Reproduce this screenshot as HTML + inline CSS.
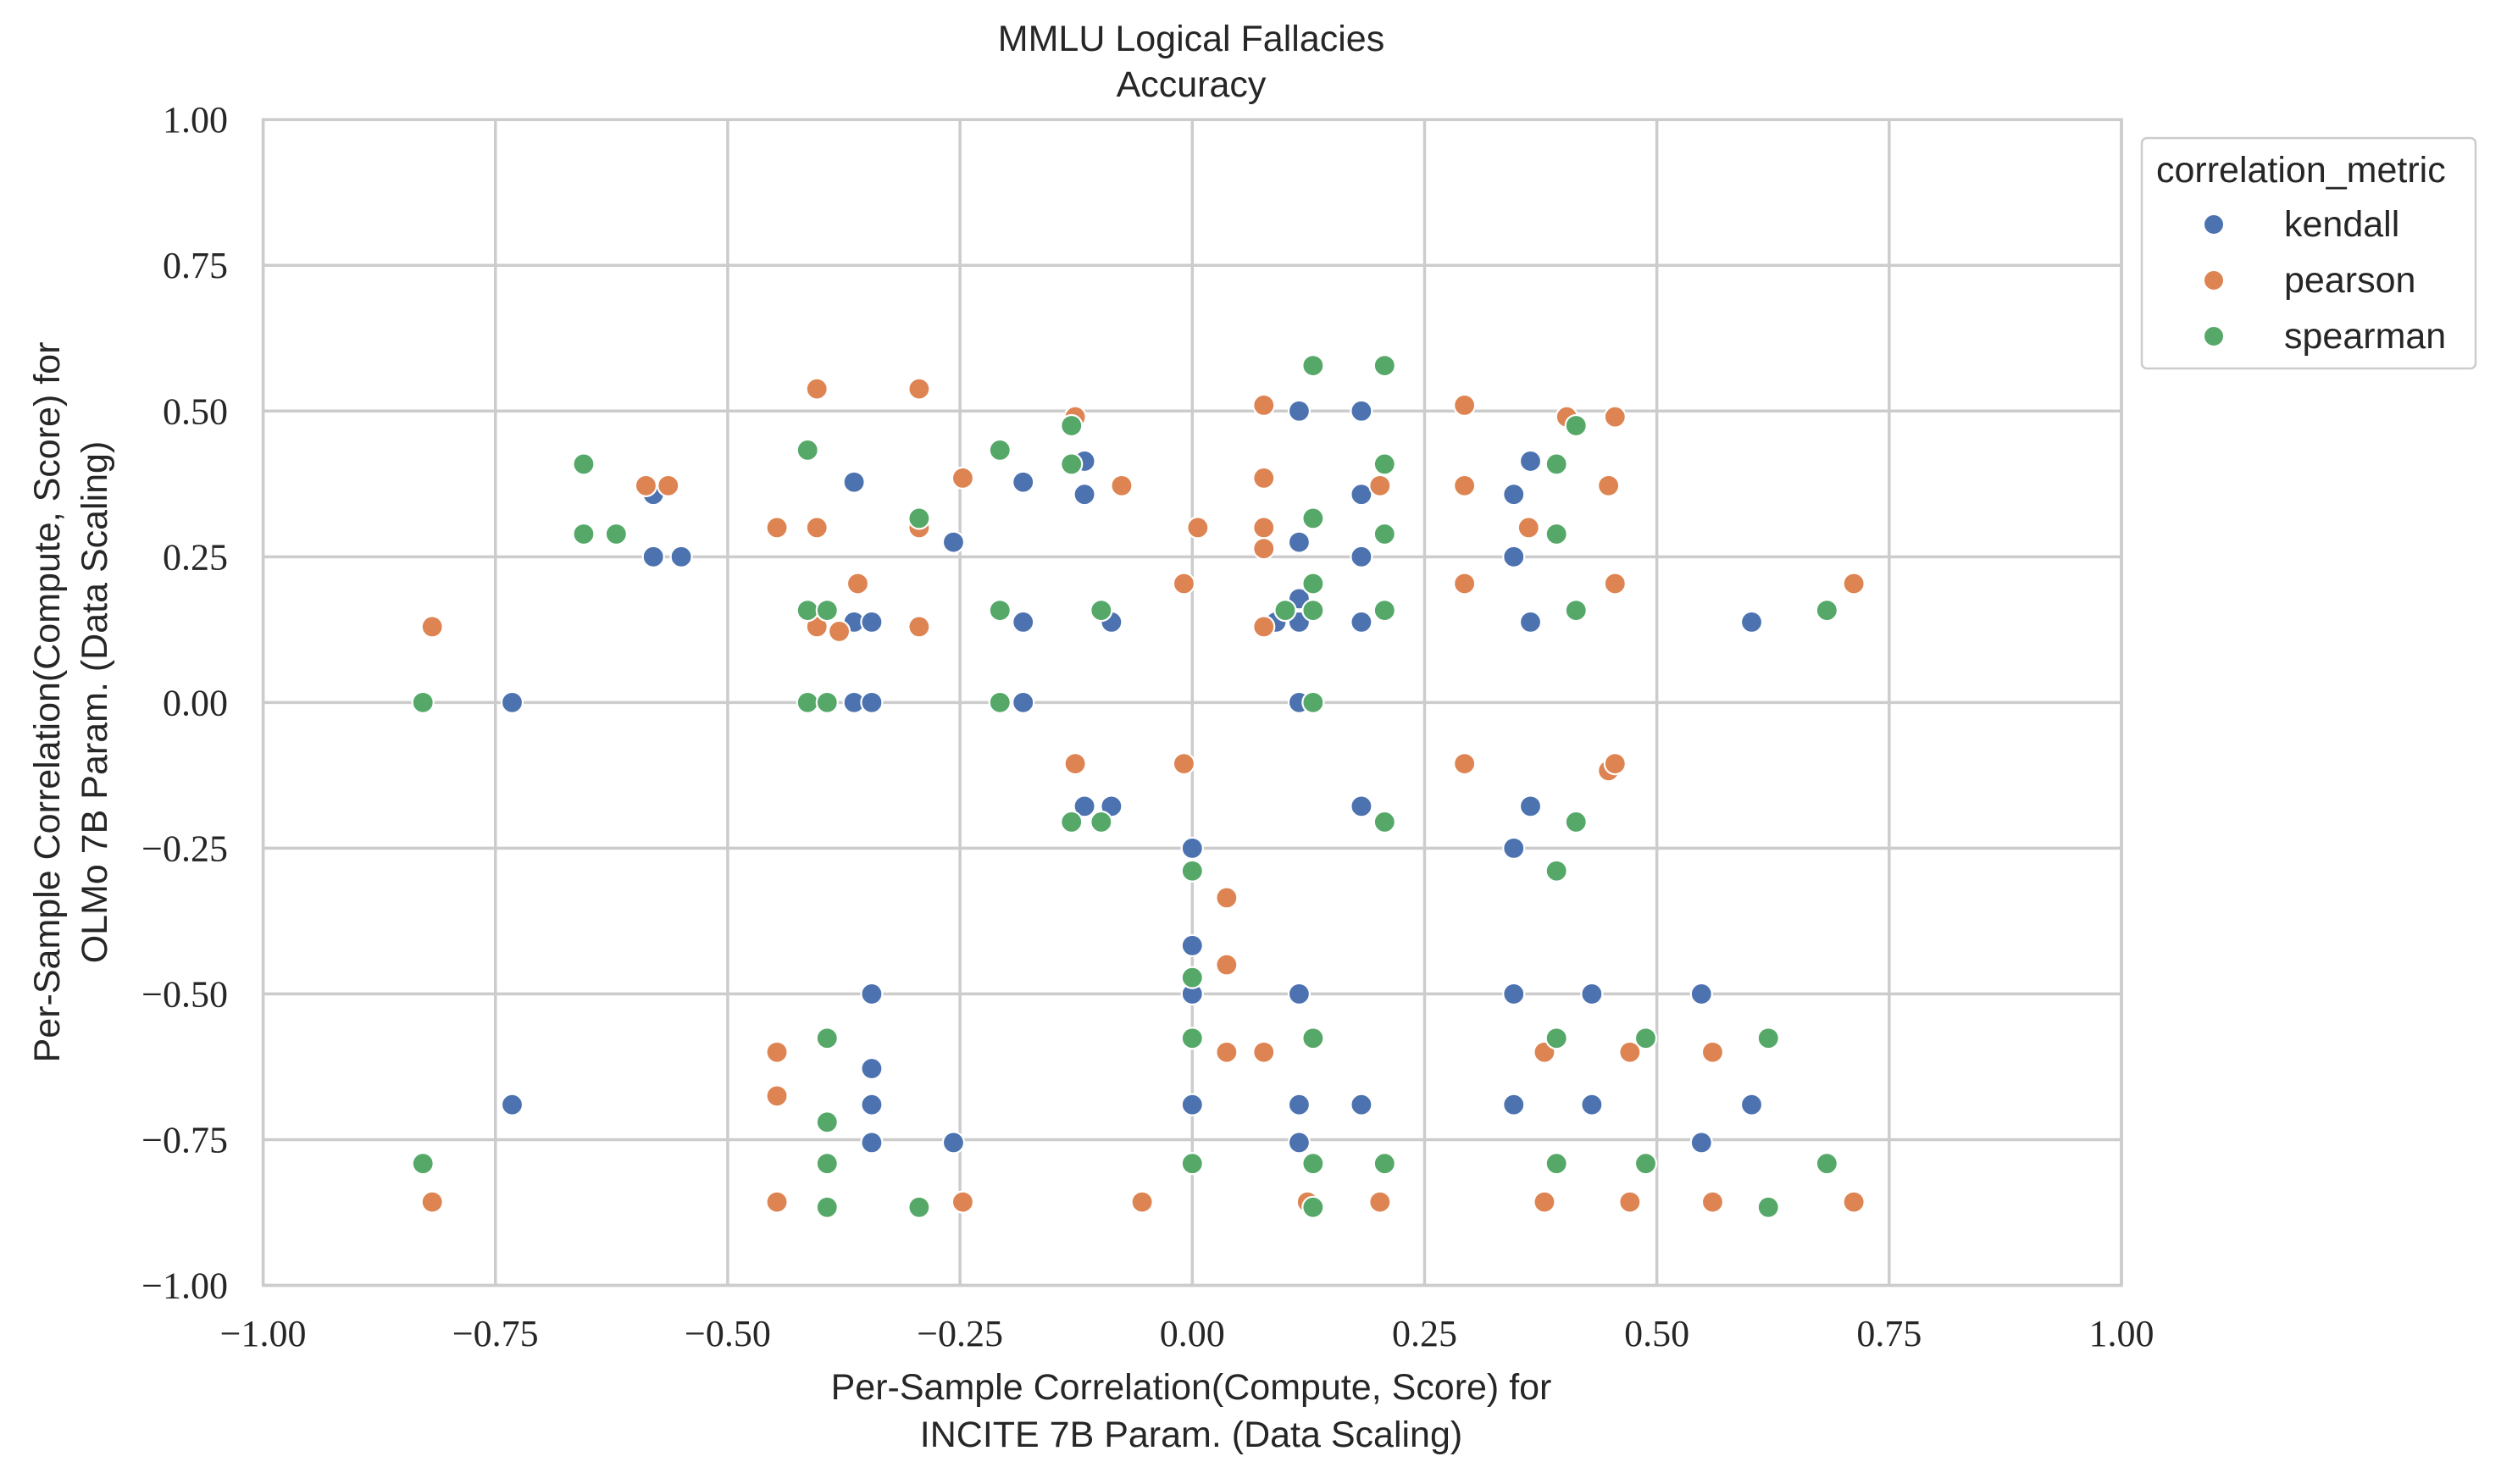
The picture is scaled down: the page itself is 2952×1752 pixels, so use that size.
<!DOCTYPE html>
<html><head><meta charset="utf-8"><style>
html,body{margin:0;padding:0;background:#fff;}
svg{display:block;}
.tick{font-family:"Liberation Serif",serif;font-size:44px;fill:#262626;}
.lab{font-family:"Liberation Sans",sans-serif;font-size:43px;fill:#262626;}
</style></head><body>
<svg id="chart" width="2952" height="1752" viewBox="0 0 2952 1752">
<g id="grid"></g>
<g id="marks"></g>
<g id="ticks"></g>
<text class="lab" x="1406" y="60" text-anchor="middle">MMLU Logical Fallacies</text>
<text class="lab" x="1406" y="114" text-anchor="middle">Accuracy</text>
<text class="lab" x="1406" y="1652" text-anchor="middle">Per-Sample Correlation(Compute, Score) for</text>
<text class="lab" x="1406" y="1708" text-anchor="middle">INCITE 7B Param. (Data Scaling)</text>
<text class="lab" transform="translate(70,829) rotate(-90)" text-anchor="middle">Per-Sample Correlation(Compute, Score) for</text>
<text class="lab" transform="translate(126,829) rotate(-90)" text-anchor="middle">OLMo 7B Param. (Data Scaling)</text>
<g>
<rect x="2528" y="163" width="394" height="272" rx="6" fill="#fff" stroke="#cccccc" stroke-width="2.5"/>
<text class="lab" x="2545" y="215" font-size="40">correlation_metric</text>
<g><circle cx="2613" cy="265" r="12" fill="#4c72b0" stroke="#fff" stroke-width="2"/><text class="lab" x="2696" y="279" font-size="38">kendall</text></g>
<g><circle cx="2613" cy="331" r="12" fill="#dd8452" stroke="#fff" stroke-width="2"/><text class="lab" x="2696" y="345" font-size="38">pearson</text></g>
<g><circle cx="2613" cy="397" r="12" fill="#55a868" stroke="#fff" stroke-width="2"/><text class="lab" x="2696" y="411" font-size="38">spearman</text></g>
</g>
</svg>
<script>
const xTicks=[-1,-0.75,-0.5,-0.25,0,0.25,0.5,0.75,1];
const yTicks=[-1,-0.75,-0.5,-0.25,0,0.25,0.5,0.75,1];
const xTickLabels=["\u22121.00","\u22120.75","\u22120.50","\u22120.25","0.00","0.25","0.50","0.75","1.00"];
const yTickLabels=["\u22121.00","\u22120.75","\u22120.50","\u22120.25","0.00","0.25","0.50","0.75","1.00"];
const seriesNames=["kendall","pearson","spearman"];
const kendallX=[-0.732,-0.58,-0.55,-0.58,-0.364,-0.364,-0.345,-0.364,-0.345,-0.257,-0.182,-0.182,-0.182,-0.116,-0.116,-0.087,-0.116,-0.087,0,0,0,0,0.115,0.182,0.182,0.115,0.182,0.115,0.09,0.115,0.182,0.115,0.182,0.115,0.115,0.182,0.115,0.346,0.364,0.346,0.364,0.364,0.346,0.346,0.346,0.43,0.43,0.548,0.548,0.602,0.602,-0.732,-0.345,-0.345,-0.345,-0.345,-0.257];
const kendallY=[0,0.25,0.25,0.357,0.378,0.138,0.138,0,0,0.275,0.378,0.138,0,0.414,0.357,0.138,-0.178,-0.178,-0.25,-0.417,-0.5,-0.69,0.5,0.5,0.357,0.275,0.25,0.178,0.138,0.138,0.138,0,-0.178,-0.5,-0.69,-0.69,-0.755,0.357,0.414,0.25,0.138,-0.178,-0.25,-0.5,-0.69,-0.5,-0.69,-0.5,-0.755,0.138,-0.69,-0.69,-0.5,-0.628,-0.69,-0.755,-0.755];
const pearsonX=[-0.818,-0.818,-0.588,-0.564,-0.447,-0.404,-0.404,-0.404,-0.38,-0.36,-0.294,-0.294,-0.294,-0.247,-0.126,-0.126,-0.076,-0.009,0.006,-0.009,0.037,0.037,0.037,-0.054,-0.247,-0.447,-0.447,-0.447,0.077,0.077,0.077,0.077,0.077,0.077,0.124,0.202,0.202,0.293,0.293,0.293,0.293,0.362,0.403,0.455,0.448,0.455,0.448,0.455,0.379,0.379,0.471,0.471,0.56,0.56,0.712,0.712];
const pearsonY=[0.13,-0.857,0.372,0.372,0.3,0.538,0.3,0.13,0.122,0.204,0.538,0.3,0.13,0.385,0.49,-0.105,0.372,0.204,0.3,-0.105,-0.335,-0.45,-0.6,-0.857,-0.857,-0.6,-0.675,-0.857,0.51,0.385,0.3,0.264,0.13,-0.6,-0.857,0.372,-0.857,0.51,0.372,0.204,-0.105,0.3,0.49,0.49,0.372,0.204,-0.117,-0.105,-0.6,-0.857,-0.6,-0.857,-0.6,-0.857,0.204,-0.857];
const spearmanX=[-0.828,-0.828,-0.655,-0.655,-0.62,-0.414,-0.414,-0.393,-0.414,-0.393,-0.393,-0.393,-0.393,-0.393,-0.294,-0.294,-0.207,-0.207,-0.207,-0.13,-0.13,-0.13,-0.098,-0.098,0,0,0,0,0.1,0.13,0.13,0.13,0.13,0.13,0.13,0.13,0.13,0.207,0.207,0.207,0.207,0.207,0.207,0.392,0.392,0.392,0.392,0.392,0.413,0.413,0.413,0.488,0.488,0.62,0.62,0.683,0.683];
const spearmanY=[0,-0.791,0.409,0.289,0.289,0.433,0.158,0.158,0,0,-0.576,-0.72,-0.791,-0.866,0.316,-0.866,0.433,0.158,0,0.475,0.409,-0.205,0.158,-0.205,-0.289,-0.472,-0.576,-0.791,0.158,0.578,0.316,0.204,0.158,0,-0.576,-0.791,-0.866,0.578,0.409,0.289,0.158,-0.205,-0.791,0.409,0.289,-0.289,-0.576,-0.791,0.475,0.158,-0.205,-0.576,-0.791,-0.576,-0.866,0.158,-0.791];

const NS="http://www.w3.org/2000/svg";
const L=310.6,R=2504,T=141.2,B=1517.5;
function xs(v){return L+(v+1)/2*(R-L);}
function ys(v){return B-(v+1)/2*(B-T);}
const grid=document.getElementById('grid'),ticks=document.getElementById('ticks'),marks=document.getElementById('marks');
function mk(tag,attrs,parent){const e=document.createElementNS(NS,tag);for(const k in attrs)e.setAttribute(k,attrs[k]);parent.appendChild(e);return e;}
xTicks.forEach((t,i)=>{
  const l=mk('line',{x1:xs(t),x2:xs(t),y1:T,y2:B,stroke:'#cccccc','stroke-width':3.5},grid);
  
  
  const tx=mk('text',{x:xs(t),y:1589,'text-anchor':'middle',class:'tick'},ticks);
  tx.textContent=xTickLabels[i];
  
  
});
yTicks.forEach((t,i)=>{
  const l=mk('line',{x1:L,x2:R,y1:ys(t),y2:ys(t),stroke:'#cccccc','stroke-width':3.5},grid);
  
  
  const tx=mk('text',{x:269,y:ys(t)+15,'text-anchor':'end',class:'tick'},ticks);
  tx.textContent=yTickLabels[i];
  
  
});
const fr=mk('rect',{x:L,y:T,width:R-L,height:B-T,fill:'none',stroke:'#cccccc','stroke-width':3.5},grid);


const series=[[kendallX,kendallY,'#4c72b0'],[pearsonX,pearsonY,'#dd8452'],[spearmanX,spearmanY,'#55a868']];
series.forEach((s,si)=>{
  s[0].forEach((xv,i)=>{
    const c=mk('circle',{cx:xs(xv),cy:ys(s[1][i]),r:12.5,fill:s[2],stroke:'#fff','stroke-width':2.2},marks);
    
    
  });
});
</script>
</body></html>
